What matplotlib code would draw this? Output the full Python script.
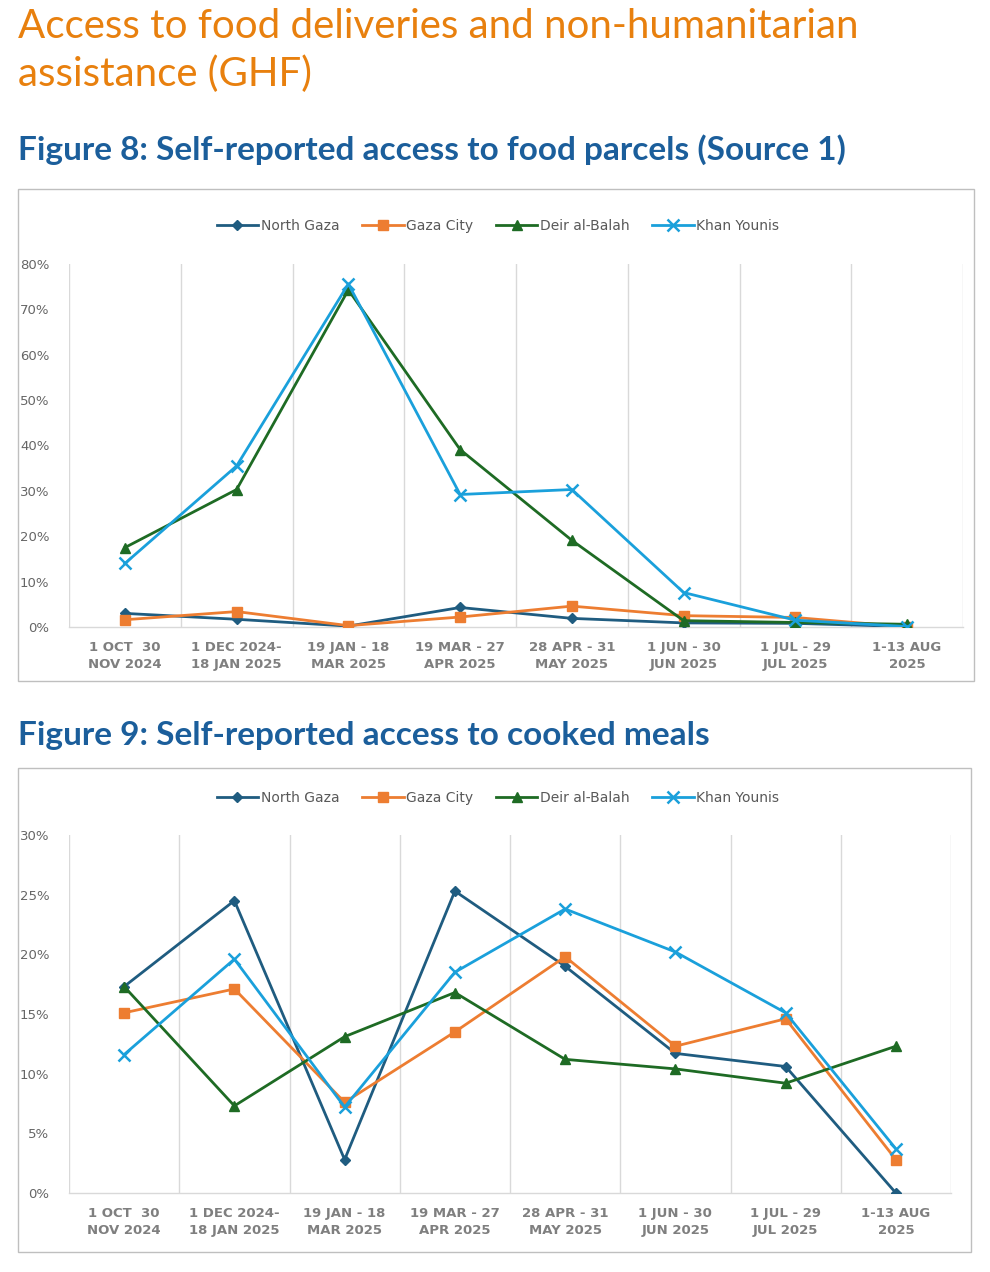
import numpy as np
import matplotlib
matplotlib.use("Agg")
import matplotlib.pyplot as plt
from matplotlib.patches import Rectangle
from matplotlib.ticker import FuncFormatter, FixedLocator

# periods (x categories)
periods = ["1 OCT  30\nNOV 2024", "1 DEC 2024-\n18 JAN 2025", "19 JAN - 18\nMAR 2025",
           "19 MAR - 27\nAPR 2025", "28 APR - 31\nMAY 2025", "1 JUN - 30\nJUN 2025",
           "1 JUL - 29\nJUL 2025", "1-13 AUG\n2025"]
regions = ["North Gaza", "Gaza City", "Deir al-Balah", "Khan Younis"]

# Figure 8: food parcels (%)
parcels_north = [3.0, 1.7, 0.2, 4.3, 1.9, 0.9, 0.8, 0.1]
parcels_gaza = [1.6, 3.4, 0.3, 2.2, 4.6, 2.5, 2.1, 0.0]
parcels_deir = [17.5, 30.3, 74.3, 39.1, 19.1, 1.4, 1.0, 0.6]
parcels_khan = [14.0, 35.5, 75.6, 29.2, 30.3, 7.6, 1.5, 0.1]

# Figure 9: cooked meals (%)
meals_north = [17.3, 24.5, 2.8, 25.3, 19.0, 11.7, 10.6, 0.0]
meals_gaza = [15.1, 17.1, 7.6, 13.5, 19.8, 12.3, 14.6, 2.8]
meals_deir = [17.3, 7.3, 13.1, 16.8, 11.2, 10.4, 9.2, 12.3]
meals_khan = [11.6, 19.6, 7.2, 18.5, 23.8, 20.2, 15.1, 3.7]

colors = ["#1F5C80", "#ED7D31", "#1E6B24", "#1AA0DB"]
markers = ["D", "s", "^", "x"]
msizes = [5, 6.5, 7, 8]

fig = plt.figure(figsize=(9.9, 12.72), dpi=100)

# headings
fig.text(18 / 990, 1 - 8 / 1272, "Access to food deliveries and non-humanitarian\nassistance (GHF)",
         color="#E8800E", fontsize=29, family="Lato", va="top", ha="left", linespacing=1.35)
fig.text(18 / 990, 1 - 150 / 1272, "Figure 8: Self-reported access to food parcels (Source 1)",
         color="#1B5E9B", fontsize=24, family="Lato", weight="bold", va="center", ha="left")
fig.text(18 / 990, 1 - 736 / 1272, "Figure 9: Self-reported access to cooked meals",
         color="#1B5E9B", fontsize=24, family="Lato", weight="bold", va="center", ha="left")

# chart frames
for (x0, y0, x1, y1) in [(18, 189, 974, 681), (18, 768, 971, 1252)]:
    fig.add_artist(Rectangle((x0 / 990, 1 - y1 / 1272), (x1 - x0) / 990, (y1 - y0) / 1272,
                             transform=fig.transFigure, fill=False, edgecolor="#BFBFBF", lw=1))


def draw_chart(rect, series, ymax, ystep, legend_y):
    ax = fig.add_axes(rect)
    x = np.arange(len(periods))
    handles = []
    for vals, c, m, ms, name in zip(series, colors, markers, msizes, regions):
        h, = ax.plot(x, vals, color=c, lw=2, marker=m, markersize=ms,
                     markeredgewidth=1.8 if m == "x" else 1, label=name, zorder=3)
        handles.append(h)
    ax.set_xlim(-0.5, len(periods) - 0.5)
    ax.set_ylim(0, ymax)
    ax.set_xticks(x)
    ax.set_xticklabels(periods, fontsize=9.5, color="#7F7F7F", weight="bold", linespacing=1.45)
    ax.xaxis.set_minor_locator(FixedLocator(np.arange(-0.5, len(periods), 1)))
    ax.grid(True, which="minor", axis="x", color="#D9D9D9", lw=1)
    ax.set_yticks(np.arange(0, ymax + 0.1, ystep))
    ax.yaxis.set_major_formatter(FuncFormatter(lambda v, p: f"{v:.0f}%"))
    ax.tick_params(axis="y", labelsize=9.5, labelcolor="#666666", length=0, pad=14)
    ax.tick_params(axis="x", which="both", length=0, pad=10)
    for s in ["top", "right", "left"]:
        ax.spines[s].set_visible(False)
    ax.spines["bottom"].set_color("#D9D9D9")
    ax.spines["bottom"].set_linewidth(1)
    fig.legend(handles=handles, loc="center", bbox_to_anchor=(498 / 990, 1 - legend_y / 1272),
               ncol=4, frameon=False, fontsize=10, labelcolor="#595959",
               handlelength=3, columnspacing=1.6, handletextpad=0.2)
    return ax


draw_chart([69 / 990, 1 - 627 / 1272, 894 / 990, 363 / 1272],
           [parcels_north, parcels_gaza, parcels_deir, parcels_khan], 80, 10, 226)
draw_chart([69 / 990, 1 - 1193 / 1272, 882 / 990, 358 / 1272],
           [meals_north, meals_gaza, meals_deir, meals_khan], 30, 5, 798)

fig.savefig("out.png", dpi=100)
